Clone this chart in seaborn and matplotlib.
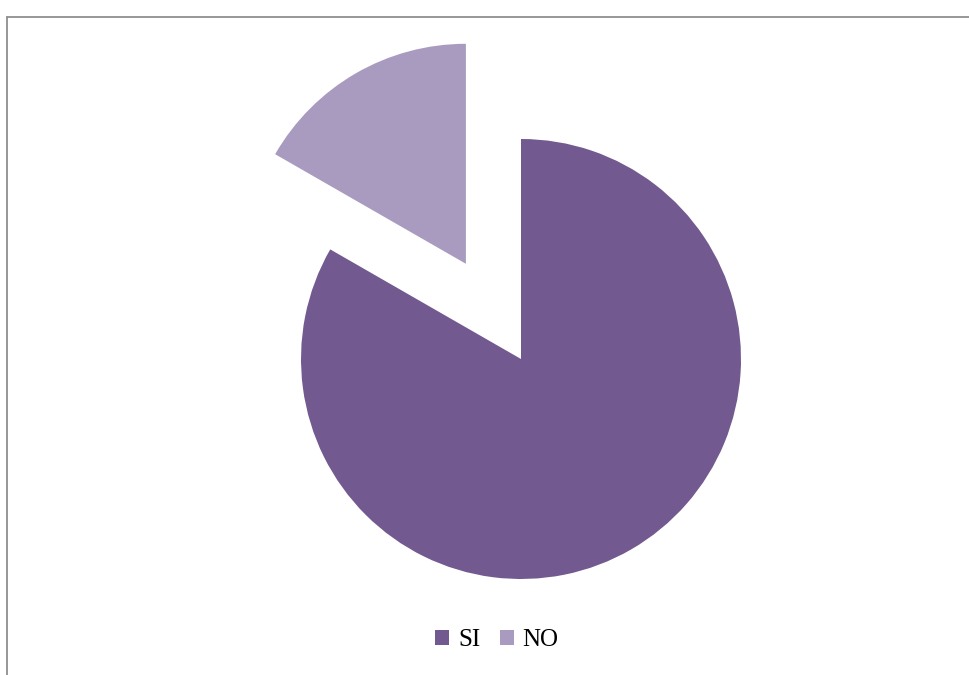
import matplotlib.pyplot as plt
import seaborn as sns
from matplotlib.lines import Line2D
from matplotlib.patches import Patch

labels = ["SI", "NO"]
values = [83.3, 16.7]
explode = [0.0, 0.5]
colors = ["#72598f", "#a99bc0"]

sns.set_theme(style="white")
plt.rcParams["font.family"] = ["Liberation Serif", "DejaVu Serif"]
plt.rcParams["text.color"] = "black"

W, H = 969, 675
fig = plt.figure(figsize=(W / 100, H / 100), dpi=100)
fig.patch.set_facecolor("white")

# pie centre (521, 359) px, radius 220 px
cx, cy, r = 521, 359, 220
half = 300
ax = fig.add_axes([(cx - half) / W, (H - cy - half) / H, 2 * half / W, 2 * half / H])
ax.pie(values, explode=explode, colors=colors, startangle=90, counterclock=False,
       radius=1.0, wedgeprops={"linewidth": 0})
ax.set_xlim(-half / r, half / r)
ax.set_ylim(-half / r, half / r)
ax.set_aspect("equal")
ax.axis("off")

handles = [Patch(facecolor=c, edgecolor="none") for c in colors]
fig.legend(handles, labels, loc="center", bbox_to_anchor=(497 / W, 1 - 640 / H),
           ncol=2, frameon=False, fontsize=18, handlelength=0.55, handleheight=0.55,
           handletextpad=0.35, columnspacing=0.8, labelcolor="black")

# chart frame (only top and left edges visible)
ytop = 1 - 17 / H
xl = 7 / W
fig.add_artist(Line2D([xl, 1], [ytop, ytop], transform=fig.transFigure, color="#8f8f8f", lw=1.3))
fig.add_artist(Line2D([xl, xl], [0, ytop], transform=fig.transFigure, color="#8f8f8f", lw=1.3))

fig.savefig("out.png", dpi=100)
